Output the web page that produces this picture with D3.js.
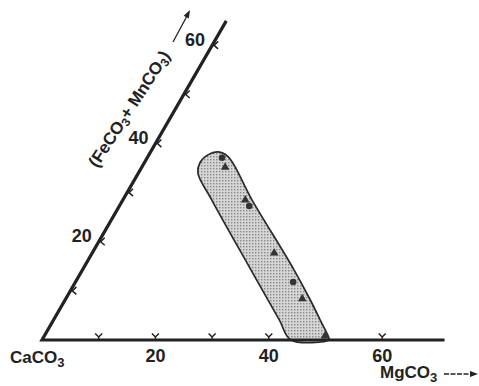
<!DOCTYPE html>
<html>
<head>
<meta charset="utf-8">
<script src="https://cdn.jsdelivr.net/npm/d3@7"></script>
<style>
  body { margin: 0; background: #fff; }
  text { font-family: "Liberation Sans", Arial, sans-serif; font-weight: bold; fill: #222; }
</style>
</head>
<body>
<div id="chart"></div>
<script>
// ternary plot: MgCO3 along the bottom, (FeCO3 + MnCO3) along the left side
var bottomTicks = [10, 20, 30, 40, 60];
var bottomLabels = [20, 40, 60];
var leftTicks = [10, 20, 30, 40, 50, 60];
var leftLabels = [20, 40, 60];

// outline of the shaded field (MgCO3, FeCO3+MnCO3)
var bandMg = [11.9, 14.2, 22.8, 36.7, 43.2, 47.0, 50.4, 50.6, 43.9, 39.8, 29.1, 15.7, 10.5, 9.8, 10.4];
var bandFe = [38.3, 37.3, 28.5, 14.9, 8.2, 4.1, 0.4, 0, 0, 4.1, 14.9, 28.5, 34.0, 36.1, 37.7];

// analysed samples
var sampleMg = [13.2, 14.7, 21.6, 22.9, 32.1, 38.4, 41.7, 49.5];
var sampleFe = [37.1, 35.2, 28.5, 27.3, 17.7, 11.8, 8.4, 0.8];
var sampleShape = ["circle", "triangle", "triangle", "circle", "triangle", "circle", "triangle", "triangle"];

var width = 479, height = 386;
var ox = 42, oy = 340, unit = 5.67;

var x = d3.scaleLinear().domain([0, 71]).range([ox, ox + 71 * unit]);
var len = d3.scaleLinear().domain([0, 65]).range([0, 65 * unit]);
var cos60 = Math.cos(Math.PI / 3), sin60 = Math.sin(Math.PI / 3);

function proj(m, f) {
    return [x(m) + len(f) * cos60, oy - len(f) * sin60];
}

var svg = d3.select("#chart")
    .append("svg")
    .attr("width", width)
    .attr("height", height)

svg.append("rect").attr("width", width).attr("height", height).attr("fill", "#fff")

// stipple for the field
var pat = svg.append("defs").append("pattern")
    .attr("id", "stipple")
    .attr("width", 3).attr("height", 3)
    .attr("patternUnits", "userSpaceOnUse")
pat.append("rect").attr("width", 3).attr("height", 3).attr("fill", "#d6d6d6")
pat.append("rect").attr("width", 1.4).attr("height", 1.4).attr("fill", "#888")

var bandPts = bandMg.map(function(m, i){ return proj(m, bandFe[i]) })

svg.append("path")
    .attr("d", d3.line().curve(d3.curveCatmullRomClosed.alpha(0.5))(bandPts))
    .attr("fill", "url(#stipple)")
    .attr("stroke", "#2a2a2a")
    .attr("stroke-width", 1.7)

// sample symbols
svg.append("g")
    .selectAll("path")
    .data(sampleMg)
    .enter()
    .append("path")
    .attr("transform", function(d, i){ var p = proj(d, sampleFe[i]); return "translate(" + p[0] + "," + p[1] + ")" })
    .attr("d", function(d, i){
        var type = sampleShape[i] == "circle" ? d3.symbolCircle : d3.symbolTriangle;
        return d3.symbol().type(type).size(sampleShape[i] == "circle" ? 34 : 32)()
    })
    .attr("fill", "#333")

// axes
var p0 = proj(0, 0);
var pEndB = proj(71, 0);
var pEndL = proj(0, 65);
svg.append("path")
    .attr("d", "M" + pEndL + "L" + p0 + "L" + pEndB)
    .attr("fill", "none")
    .attr("stroke", "#222")
    .attr("stroke-width", 3.2)
    .attr("stroke-linejoin", "miter")

svg.append("g")
    .selectAll("path")
    .data(bottomTicks)
    .enter()
    .append("path")
    .attr("transform", function(d){ var p = proj(d, 0); return "translate(" + p[0] + "," + p[1] + ")" })
    .attr("d", "M-3.5,-6.5L0,-3L3.5,-6.5M0,-3L0,0")
    .attr("fill", "none")
    .attr("stroke", "#222")
    .attr("stroke-width", 1.5)

svg.append("g")
    .selectAll("path")
    .data(leftTicks)
    .enter()
    .append("path")
    .attr("transform", function(d){ var p = proj(0, d); return "translate(" + p[0] + "," + p[1] + ")" })
    .attr("d", "M6,-4L2,0L6,3.5M2,0L0,0")
    .attr("fill", "none")
    .attr("stroke", "#222")
    .attr("stroke-width", 1.5)

// tick labels
svg.append("g")
    .selectAll("text")
    .data(bottomLabels)
    .enter()
    .append("text")
    .attr("x", function(d){ return proj(d, 0)[0] })
    .attr("y", oy + 22)
    .attr("text-anchor", "middle")
    .attr("font-size", 18)
    .text(function(d){ return d })

svg.append("g")
    .selectAll("text")
    .data(leftLabels)
    .enter()
    .append("text")
    .attr("x", function(d){ return proj(0, d)[0] - 17 })
    .attr("y", function(d){ return proj(0, d)[1] - 6 })
    .attr("dy", "0.35em")
    .attr("text-anchor", "middle")
    .attr("font-size", 18)
    .text(function(d){ return d })

// corner and axis titles
var ca = svg.append("text").attr("x", 10).attr("y", 363).attr("font-size", 17)
ca.append("tspan").text("CaCO")
ca.append("tspan").attr("font-size", 13).attr("dy", 4).text("3")

var mg = svg.append("text").attr("x", 380).attr("y", 378).attr("font-size", 17)
mg.append("tspan").text("MgCO")
mg.append("tspan").attr("font-size", 13).attr("dy", 4).text("3")

svg.append("line")
    .attr("x1", 444).attr("y1", 374).attr("x2", 472).attr("y2", 374)
    .attr("stroke", "#222").attr("stroke-width", 1.3).attr("stroke-dasharray", "5,1.5")
svg.append("path")
    .attr("d", "M470,371L478,374L470,377Z")
    .attr("fill", "#222")

var ft = svg.append("text")
    .attr("transform", "translate(134,112) rotate(-57)")
    .attr("text-anchor", "middle")
    .attr("font-size", 17)
ft.append("tspan").text("(FeCO")
ft.append("tspan").attr("font-size", 12).attr("dy", 3).text("3")
ft.append("tspan").attr("dy", -3).text("+ MnCO")
ft.append("tspan").attr("font-size", 12).attr("dy", 3).text("3")
ft.append("tspan").attr("dy", -3).text(")")

svg.append("line")
    .attr("x1", 173).attr("y1", 42).attr("x2", 187).attr("y2", 16)
    .attr("stroke", "#222").attr("stroke-width", 1.3)
svg.append("path")
    .attr("transform", "translate(190,10) rotate(28)")
    .attr("d", "M0,0L-3,8L3,8Z")
    .attr("fill", "#222")
</script>
</body>
</html>
